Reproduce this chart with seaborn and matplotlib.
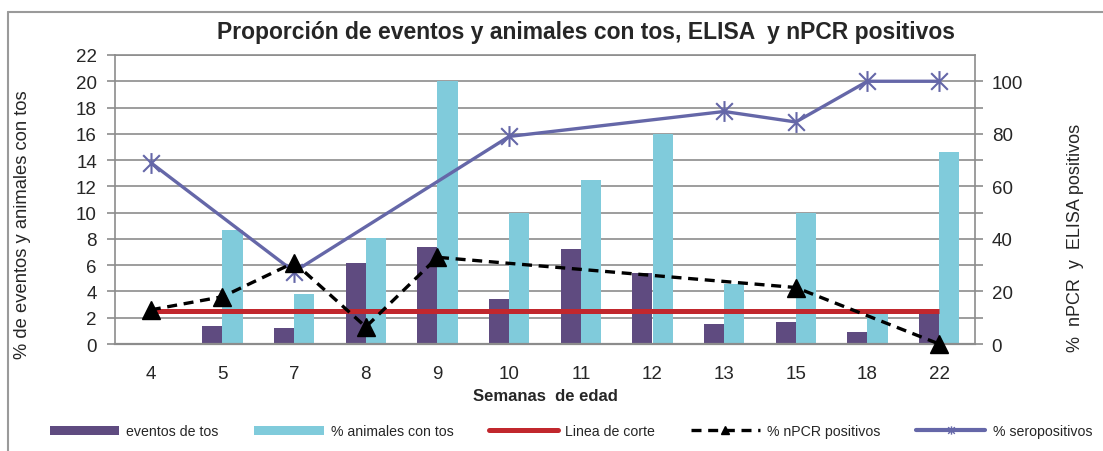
import numpy as np
import pandas as pd
import seaborn as sns
import matplotlib
matplotlib.use("Agg")
import matplotlib.pyplot as plt
from matplotlib.path import Path
from matplotlib.patches import Patch
from matplotlib.lines import Line2D

# ---------------- data ----------------
semanas = ["4", "5", "7", "8", "9", "10", "11", "12", "13", "15", "18", "22"]
eventos_tos = [np.nan, 1.4, 1.25, 6.15, 7.35, 3.4, 7.2, 5.4, 1.55, 1.7, 0.95, 2.5]
animales_tos = [np.nan, 8.7, 3.8, 8.1, 20.0, 10.0, 12.5, 16.0, 4.6, 10.0, 2.5, 14.6]
linea_corte = [2.5] * 12
npcr_pos = [13, 18, 31, 6.5, 33, np.nan, np.nan, np.nan, np.nan, 21.5, np.nan, 0]
seropos = [69, np.nan, 27.5, np.nan, np.nan, 79, np.nan, np.nan, 88.5, 84.5, 100, 100]

left_ticks = list(range(0, 23, 2))
right_ticks = list(range(0, 101, 20))

# ---------------- style ----------------
sns.set_style("white")
plt.rcParams["font.family"] = ["Liberation Sans", "DejaVu Sans"]

C_PURPLE = "#5F4B80"
C_CYAN = "#80CBDB"
C_RED = "#C1272D"
C_SERO = "#6567A8"
C_GRID = "#8C8C8C"

fig = plt.figure(figsize=(11.03, 4.52), dpi=100)
ax = fig.add_axes([115 / 1103, 1 - 345 / 452, (975 - 115) / 1103, (345 - 56) / 452])

df = pd.DataFrame({
    "semana": semanas * 2,
    "valor": eventos_tos + animales_tos,
    "serie": ["eventos de tos"] * 12 + ["% animales con tos"] * 12,
})
sns.barplot(data=df, x="semana", y="valor", hue="serie", order=semanas,
            hue_order=["eventos de tos", "% animales con tos"],
            palette=[C_PURPLE, C_CYAN], width=0.56, gap=0, dodge=True,
            saturation=1, legend=False, ax=ax, zorder=2, linewidth=0, edgecolor="none")

xpos = np.arange(len(semanas))
ax.plot(xpos, linea_corte, color=C_RED, lw=3.6, zorder=3, solid_capstyle="butt")

ax.set_xlim(-0.5, len(semanas) - 0.5)
ax.set_ylim(0, 22)
ax.set_yticks(left_ticks)
ax.set_yticklabels([str(t) for t in left_ticks], fontsize=13.5)
ax.set_xticks(xpos)
ax.set_xticklabels(semanas, fontsize=13.5)
ax.set_xticks(np.arange(-0.5, len(semanas), 1.0), minor=True)
ax.tick_params(axis="x", which="major", length=0, pad=15)
ax.tick_params(axis="x", which="minor", length=6, width=1.2, color=C_GRID, direction="out")
ax.tick_params(axis="y", length=6, width=1.2, color=C_GRID, direction="out", pad=7, left=True)
ax.yaxis.grid(True, color=C_GRID, lw=1.2, zorder=0)
ax.set_axisbelow(True)
for s in ax.spines.values():
    s.set_color(C_GRID)
    s.set_linewidth(1.2)
ax.spines["bottom"].set_linewidth(1.6)
ax.set_xlabel("Semanas  de edad", fontsize=12, fontweight="bold")
ax.xaxis.set_label_coords((545 - 115) / 860, (345 - 389) / 289)
ax.set_ylabel("% de eventos y animales con tos", fontsize=13.2)
ax.yaxis.set_label_coords((31 - 115) / 860, (345 - 225) / 289)

# ---------------- right axis ----------------
ax2 = ax.twinx()
ax2.set_ylim(0, 110)
ax2.set_yticks(right_ticks)
ax2.set_yticklabels([str(t) for t in right_ticks], fontsize=13.5)
ax2.set_yticks(list(range(10, 101, 20)), minor=True)
ax2.tick_params(axis="y", which="both", length=6, width=1.2, color=C_GRID,
                direction="out", pad=6, right=True)
for s in ax2.spines.values():
    s.set_visible(False)
ax2.set_ylabel("%  nPCR  y  ELISA positivos", fontsize=13)
ax2.yaxis.set_label_coords((1067 - 115) / 860, (345 - 238) / 289)

npcr_df = pd.DataFrame({"x": xpos, "y": npcr_pos}).dropna()
ax2.plot(npcr_df["x"], npcr_df["y"], color="black", lw=2.4, ls=(0, (3, 2)),
         marker="^", markersize=13, markerfacecolor="black",
         markeredgecolor="black", zorder=5, clip_on=False)

star = Path([(-1, -1), (1, 1), (-1, 1), (1, -1), (0, -1.25), (0, 1.25)],
            [Path.MOVETO, Path.LINETO, Path.MOVETO, Path.LINETO, Path.MOVETO, Path.LINETO])
sero_df = pd.DataFrame({"x": xpos, "y": seropos}).dropna()
ax2.plot(sero_df["x"], sero_df["y"], color=C_SERO, lw=2.4,
         marker=star, markersize=15, markeredgewidth=1.5,
         markeredgecolor=C_SERO, zorder=4, clip_on=False)

# ---------------- title ----------------
fig.text(586 / 1103, 1 - 32 / 452, "Proporción de eventos y animales con tos, ELISA  y nPCR positivos",
         ha="center", va="center", fontsize=16.5, fontweight="bold")

# ---------------- legend ----------------
handles = [
    Patch(facecolor=C_PURPLE, edgecolor="none", label="eventos de tos"),
    Patch(facecolor=C_CYAN, edgecolor="none", label="% animales con tos"),
    Line2D([], [], color=C_RED, lw=3.6, label="Linea de corte"),
    Line2D([], [], color="black", lw=2.4, ls=(0, (3, 2)), marker="^", markersize=6,
           label="% nPCR positivos"),
    Line2D([], [], color=C_SERO, lw=3, marker=star, markersize=6, markeredgewidth=1,
           label="% seropositivos"),
]
fig.legend(handles=handles, loc="center", bbox_to_anchor=(571 / 1103, 1 - 432 / 452),
           ncol=5, frameon=False, fontsize=10.2, handlelength=4.9, handletextpad=0.5,
           columnspacing=2.5, handleheight=0.6)

# ---------------- outer border ----------------
fig.add_artist(Line2D([8 / 1103, 8 / 1103], [0, 1 - 13 / 452], color="#9A9A9A", lw=1.5,
                      transform=fig.transFigure))
fig.add_artist(Line2D([8 / 1103, 1], [1 - 13 / 452, 1 - 13 / 452], color="#9A9A9A", lw=1.5,
                      transform=fig.transFigure))

fig.savefig("out.png", dpi=100)
